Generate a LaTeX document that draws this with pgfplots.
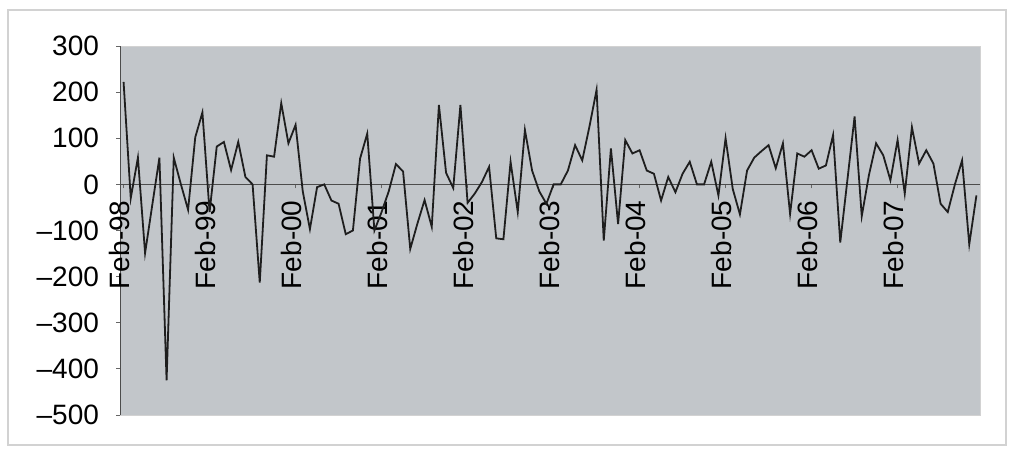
\documentclass[border=0pt]{standalone}
\usepackage{fontspec}
\setmainfont{Liberation Sans}
\usepackage{pgfplots}
\pgfplotsset{compat=1.18}
\definecolor{plotbg}{RGB}{194,198,202}
\definecolor{seriescol}{RGB}{30,30,30}
\definecolor{framecol}{RGB}{210,210,210}
\begin{document}
\begin{tikzpicture}
\useasboundingbox (0pt,0pt) rectangle (506pt,224.5pt);
\fill[white] (0pt,0pt) rectangle (506pt,224.5pt);
\draw[framecol, line width=0.6pt] (4pt,2pt) rectangle (503pt,219.5pt);
\begin{axis}[
  at={(60pt,17pt)}, anchor=south west,
  width=430pt, height=184.5pt, scale only axis,
  xmin=-0.5, xmax=119.5, ymin=-500, ymax=300,
  enlargelimits=false,
  axis x line=middle, axis y line=left,
  axis line style={-, draw=black!70, line width=0.5pt},
  hide obscured x ticks=false, hide obscured y ticks=false,
  ytick={-500,-400,-300,-200,-100,0,100,200,300},
  yticklabels={–500,–400,–300,–200,–100,0,100,200,300},
  xtick={0,12,24,36,48,60,72,84,96,108},
  xticklabels={Feb-98,Feb-99,Feb-00,Feb-01,Feb-02,Feb-03,Feb-04,Feb-05,Feb-06,Feb-07},
  tick align=outside, major tick length=2pt,
  tick style={draw=black!60, line width=0.4pt},
  x tick label style={rotate=90, anchor=east, font=\fontsize{14}{16}\selectfont, xshift=-2.5pt, yshift=2pt},
  y tick label style={font=\fontsize{14}{16}\selectfont, xshift=-5pt},
  axis background/.style={fill=plotbg, draw=framecol},
  clip=false,
]
\addplot[color=seriescol, line width=0.9pt, mark=none] coordinates {
(0,222) (1,-30) (2,58) (3,-149) (4,-45) (5,58) (6,-425) (7,58) (8,0) (9,-55)
(10,102) (11,156) (12,-60) (13,82) (14,92) (15,31) (16,92) (17,16) (18,0) (19,-213)
(20,63) (21,60) (22,176) (23,89) (24,129) (25,-15) (26,-97) (27,-6) (28,0) (29,-35)
(30,-42) (31,-108) (32,-100) (33,56) (34,110) (35,-100) (36,-60) (37,-15) (38,44) (39,28)
(40,-140) (41,-85) (42,-34) (43,-92) (44,172) (45,25) (46,-8) (47,172) (48,-40) (49,-20)
(50,5) (51,38) (52,-117) (53,-119) (54,49) (55,-60) (56,118) (57,30) (58,-15) (59,-42)
(60,0) (61,0) (62,30) (63,85) (64,52) (65,125) (66,205) (67,-122) (68,78) (69,-86)
(70,96) (71,67) (72,74) (73,30) (74,23) (75,-35) (76,16) (77,-17) (78,23) (79,49)
(80,0) (81,0) (82,49) (83,-24) (84,100) (85,-10) (86,-65) (87,30) (88,58) (89,72)
(90,85) (91,35) (92,89) (93,-64) (94,67) (95,60) (96,74) (97,34) (98,41) (99,107)
(100,-126) (101,10) (102,147) (103,-69) (104,20) (105,89) (106,63) (107,9) (108,96) (109,-20)
(110,124) (111,45) (112,74) (113,45) (114,-42) (115,-60) (116,0) (117,52) (118,-130) (119,-24)
};
\end{axis}
\end{tikzpicture}
\end{document}
